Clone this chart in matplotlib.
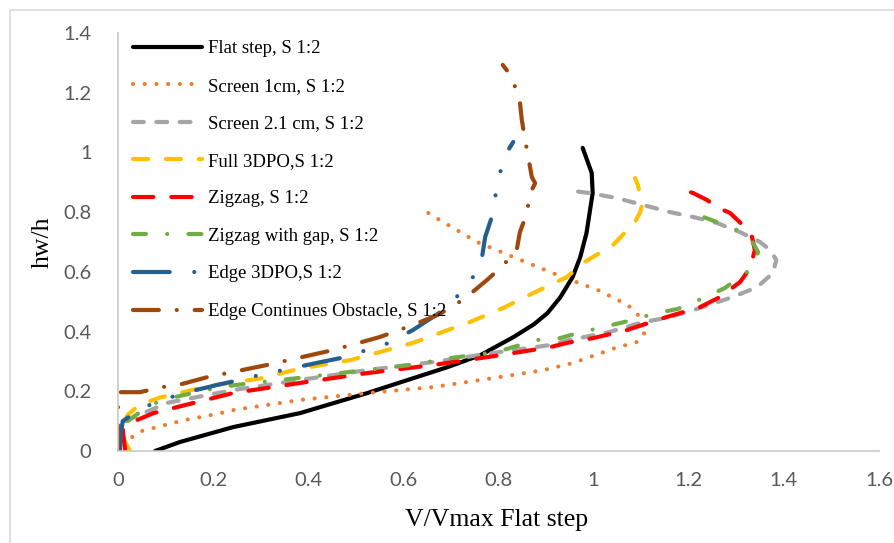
import matplotlib
matplotlib.use("Agg")
import matplotlib.pyplot as plt
from matplotlib.patches import Rectangle

# velocity profiles, x = V/Vmax (flat step), y = hw/h
flat_x = [0.078, 0.13, 0.242, 0.383, 0.524, 0.693, 0.762, 0.832, 0.875, 0.903, 0.93, 0.956, 0.972,
          0.985, 0.998, 0.996, 0.977]
flat_y = [0.0, 0.03, 0.08, 0.127, 0.194, 0.281, 0.321, 0.382, 0.425, 0.462, 0.515, 0.583, 0.65,
          0.730, 0.864, 0.931, 1.015]

scr1_x = [0.03, 0.05, 0.074, 0.116, 0.141, 0.208, 0.242, 0.383, 0.524, 0.663, 0.804, 0.895, 0.957,
          1.045, 1.091, 1.114, 1.104, 1.072, 1.009, 0.923, 0.831, 0.755, 0.673, 0.635]
scr1_y = [0.047, 0.067, 0.077, 0.094, 0.104, 0.124, 0.137, 0.171, 0.194, 0.214, 0.248, 0.271, 0.295,
          0.345, 0.365, 0.409, 0.439, 0.489, 0.539, 0.590, 0.650, 0.700, 0.777, 0.814]

scr2_x = [0.015, 0.103, 0.242, 0.383, 0.524, 0.663, 0.804, 0.909, 0.95, 1.034, 1.098, 1.161, 1.224,
          1.293, 1.344, 1.377, 1.384, 1.371, 1.35, 1.308, 1.259, 1.209, 1.161, 1.104, 1.049, 0.992, 0.955]
scr2_y = [0.10, 0.161, 0.204, 0.238, 0.271, 0.298, 0.332, 0.355, 0.372, 0.399, 0.429, 0.449, 0.479,
          0.516, 0.549, 0.596, 0.640, 0.673, 0.700, 0.733, 0.764, 0.784, 0.800, 0.824, 0.847, 0.864, 0.871]

full_x = [0.025, 0.012, 0.01, 0.02, 0.045, 0.09, 0.2, 0.3, 0.38, 0.49, 0.62, 0.74, 0.81, 0.873,
          0.944, 0.978, 1.041, 1.087, 1.098, 1.102, 1.093, 1.087]
full_y = [0.0, 0.04, 0.08, 0.12, 0.155, 0.18, 0.22, 0.243, 0.275, 0.305, 0.362, 0.432, 0.479, 0.529,
          0.583, 0.630, 0.690, 0.767, 0.800, 0.824, 0.891, 0.914]

zig_x = [0.015, 0.01, 0.03, 0.075, 0.124, 0.242, 0.383, 0.524, 0.663, 0.804, 0.909, 0.944, 0.999,
         1.07, 1.154, 1.224, 1.266, 1.308, 1.329, 1.339, 1.333, 1.318, 1.287, 1.259, 1.238, 1.209, 1.171]
zig_y = [0.003, 0.07, 0.097, 0.127, 0.147, 0.194, 0.228, 0.261, 0.288, 0.321, 0.348, 0.362, 0.378,
         0.405, 0.449, 0.482, 0.516, 0.566, 0.613, 0.673, 0.717, 0.750, 0.797, 0.817, 0.841, 0.864, 0.884]

zgap_x = [0.02, 0.067, 0.109, 0.214, 0.278, 0.383, 0.488, 0.614, 0.698, 0.797, 0.881, 0.929, 0.967,
          1.02, 1.072, 1.125, 1.177, 1.23, 1.276, 1.322, 1.346, 1.329, 1.312, 1.264, 1.209, 1.198]
zgap_y = [0.10, 0.154, 0.177, 0.214, 0.227, 0.245, 0.265, 0.288, 0.311, 0.332, 0.372, 0.378, 0.395,
          0.415, 0.435, 0.459, 0.476, 0.512, 0.546, 0.599, 0.666, 0.713, 0.733, 0.764, 0.797, 0.800]

edge_x = [0.004, 0.006, 0.01, 0.05, 0.093, 0.137, 0.208, 0.256, 0.299, 0.347, 0.418, 0.467, 0.509,
          0.551, 0.62, 0.698, 0.723, 0.755, 0.765, 0.772, 0.786, 0.793, 0.81, 0.831]
edge_y = [0.0, 0.06, 0.10, 0.144, 0.17, 0.194, 0.221, 0.238, 0.255, 0.271, 0.295, 0.311, 0.332,
          0.348, 0.405, 0.486, 0.539, 0.599, 0.646, 0.717, 0.784, 0.851, 0.981, 1.035]

econt_x = [0.0, 0.0, 0.0, 0.0, 0.046, 0.093, 0.124, 0.187, 0.313, 0.452, 0.551, 0.62, 0.671, 0.698,
           0.73, 0.776, 0.799, 0.824, 0.839, 0.845, 0.856, 0.87, 0.877, 0.87, 0.856, 0.849, 0.845,
           0.835, 0.828, 0.809]
econt_y = [0.0, 0.1, 0.15, 0.197, 0.197, 0.214, 0.22, 0.247, 0.288, 0.338, 0.382, 0.422, 0.455, 0.479,
           0.512, 0.573, 0.606, 0.646, 0.680, 0.733, 0.780, 0.874, 0.897, 0.918, 1.042, 1.109, 1.169,
           1.219, 1.253, 1.293]

series = [
    ("Flat step, S 1:2", flat_x, flat_y, "#000000", "-"),
    ("Screen 1cm, S 1:2", scr1_x, scr1_y, "#ED7D31", (0, (0.01, 2.8))),
    ("Screen 2.1 cm, S 1:2", scr2_x, scr2_y, "#A5A5A5", (0, (2.6, 3.0))),
    ("Full 3DPO,S 1:2", full_x, full_y, "#FFC000", (0, (3.6, 4.3))),
    ("Zigzag, S 1:2", zig_x, zig_y, "#FF0000", (0, (4.9, 4.3))),
    ("Zigzag with gap, S 1:2", zgap_x, zgap_y, "#70AD47", (0, (3.1, 5.1, 0.01, 5.1))),
    ("Edge 3DPO,S 1:2", edge_x, edge_y, "#255E91", (0, (8.8, 5.9, 0.01, 5.9, 0.01, 5.9))),
    ("Edge Continues Obstacle, S 1:2", econt_x, econt_y, "#9E480E", (0, (6.2, 4.3, 0.01, 4.3))),
]

fig = plt.figure(figsize=(8.95, 5.43), dpi=100)
ax = fig.add_axes([118 / 895, 92 / 543, 761 / 895, 418 / 543])

for label, xs, ys, color, ls in series:
    ax.plot(xs, ys, color=color, linestyle=ls, linewidth=3.0,
            dash_capstyle="round", solid_capstyle="round", solid_joinstyle="round",
            label=label)

ax.set_xlim(0, 1.6)
ax.set_ylim(0, 1.4)
ax.set_xticks([0, 0.2, 0.4, 0.6, 0.8, 1, 1.2, 1.4, 1.6])
ax.set_xticklabels(["0", "0.2", "0.4", "0.6", "0.8", "1", "1.2", "1.4", "1.6"])
ax.set_yticks([0, 0.2, 0.4, 0.6, 0.8, 1, 1.2, 1.4])
ax.set_yticklabels(["0", "0.2", "0.4", "0.6", "0.8", "1", "1.2", "1.4"])
ax.tick_params(length=0, labelsize=14.5, labelcolor="#595959")
ax.tick_params(axis="x", pad=15)
ax.tick_params(axis="y", pad=19)
for t in ax.get_xticklabels() + ax.get_yticklabels():
    t.set_family("Lato")

for s in ["top", "right"]:
    ax.spines[s].set_visible(False)
for s in ["left", "bottom"]:
    ax.spines[s].set_color("#C8C8C8")
    ax.spines[s].set_linewidth(1.2)

fig.text(497 / 895, 1 - 520 / 543, "V/Vmax Flat step", ha="center", va="center",
         fontsize=18.5, family="Liberation Serif")
fig.text(43 / 895, 1 - 242 / 543, "hw/h", ha="center", va="center", rotation=90,
         fontsize=18.5, family="Liberation Serif")

leg = ax.legend(loc="upper left", bbox_to_anchor=(133 / 895, 1 - 40 / 543),
                bbox_transform=fig.transFigure, frameon=False, borderpad=0,
                borderaxespad=0, handlelength=3.7, handletextpad=0.3,
                labelspacing=1.09, prop={"family": "Liberation Serif", "size": 13.5})

# outer chart border (only top and left edges visible in the frame)
fig.patches.append(Rectangle((10 / 895, -0.2), 2.0, 1.2 - 10 / 543, transform=fig.transFigure,
                             fill=False, edgecolor="#D9D9D9", linewidth=1.2))

fig.savefig("out.png", dpi=100)
